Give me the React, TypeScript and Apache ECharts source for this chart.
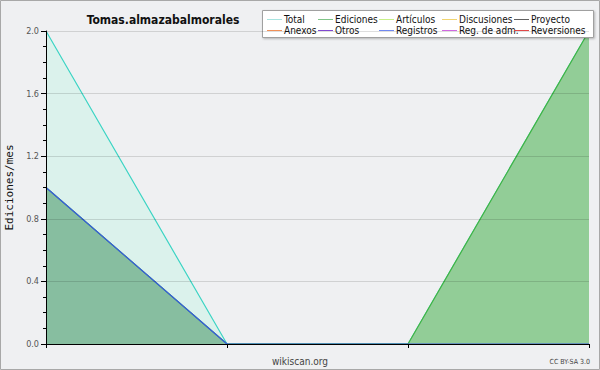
import React, { useEffect, useRef } from "react";
import * as echarts from "echarts";

const categories = ["m1", "m2", "m3", "m4"];
const totalValues = [2, 0, 0, 2];
const edicionesValues = [1, 0, 0, 2];
const registrosValues = [1, 0, 0, 0];
const yTicks = [0, 0.4, 0.8, 1.2, 1.6, 2.0];

const legendNames = [
  "Total", "Ediciones", "Artículos", "Discusiones", "Proyecto",
  "Anexos", "Otros", "Registros", "Reg. de adm.", "Reversiones",
];
const legendColors = [
  "#a8e4e0", "#80c488", "#c8f088", "#f0d470", "#606060",
  "#f09058", "#8048d0", "#7088f0", "#d068e0", "#e04848",
];

const COND = "'DejaVu Sans Condensed', 'DejaVu Sans', sans-serif";

export default function App() {
  const ref = useRef<HTMLDivElement>(null);
  useEffect(() => {
    document.body.style.margin = "0";
    const chart = echarts.init(ref.current!, null, { renderer: "svg" });
    const colX = [267, 318, 379, 442, 514];
    const rowY = [19, 30];
    const legendEls: any[] = [
      {
        type: "rect",
        shape: { x: 262.5, y: 10.5, width: 331, height: 27 },
        style: { fill: "#ffffff", stroke: "#a0a0a0", lineWidth: 1, shadowBlur: 2, shadowColor: "rgba(0,0,0,0.25)", shadowOffsetX: 1, shadowOffsetY: 1 },
        z: 10,
      },
    ];
    legendNames.forEach((name, i) => {
      const x = colX[i % 5];
      const y = rowY[Math.floor(i / 5)];
      legendEls.push({
        type: "line",
        shape: { x1: x, y1: y + 0.5, x2: x + 15, y2: y + 0.5 },
        style: { stroke: legendColors[i], lineWidth: 1 },
        z: 11,
      });
      legendEls.push({
        type: "text",
        x: x + 17,
        y: y,
        style: { text: name, fill: "#111", font: `10px ${COND}`, verticalAlign: "middle", align: "left" },
        z: 11,
      });
    });

    chart.setOption({
      animation: false,
      backgroundColor: "#eff0f2",
      title: {
        text: "Tomas.almazabalmorales",
        left: 158,
        top: 9,
        textAlign: "center",
        textStyle: { fontFamily: COND, fontSize: 12, fontWeight: "bold", color: "#111" },
      },
      grid: { left: 46, right: 11, top: 31, bottom: 26, containLabel: false, outerBoundsMode: "none" },
      xAxis: {
        type: "category",
        data: categories,
        boundaryGap: false,
        z: 10,
        axisLine: { lineStyle: { color: "#000", width: 1 } },
        axisTick: { show: true, interval: 0, length: 4, lineStyle: { color: "#000" } },
        axisLabel: { show: false },
        splitLine: { show: false },
      },
      yAxis: {
        type: "value",
        min: 0,
        max: 2,
        interval: 0.4,
        z: 10,
        name: "Ediciones/mes",
        nameLocation: "middle",
        nameGap: 30,
        nameTextStyle: { fontFamily: "'DejaVu Sans Mono', monospace", fontSize: 11, color: "#111" },
        axisLine: { show: true, lineStyle: { color: "#000", width: 1 } },
        axisTick: { show: true, length: 5, lineStyle: { color: "#000" } },
        minorTick: { show: true, splitNumber: 4, length: 3, lineStyle: { color: "#000" } },
        axisLabel: {
          fontFamily: COND,
          fontSize: 9,
          color: "#555",
          margin: 7,
          formatter: (v: number) => (yTicks.some((t) => Math.abs(t - v) < 1e-6) ? v.toFixed(1) : ""),
        },
        splitLine: { show: true, lineStyle: { color: "rgba(0,0,0,0.13)", width: 1 } },
      },
      series: [
        {
          name: "Total",
          type: "line",
          data: totalValues,
          symbol: "none",
          lineStyle: { color: "#3cd4c4", width: 1.2 },
          areaStyle: { color: "#dbf2ec", opacity: 1 },
          z: 2,
        },
        {
          name: "Ediciones",
          type: "line",
          data: edicionesValues,
          symbol: "none",
          lineStyle: { color: "#40b444", width: 1.2 },
          areaStyle: { color: "#92cd97", opacity: 1 },
          z: 3,
        },
        {
          name: "Registros",
          type: "line",
          data: registrosValues,
          symbol: "none",
          lineStyle: { color: "#3858e0", width: 1.2 },
          areaStyle: { color: "#4060e0", opacity: 0.13 },
          z: 4,
        },
      ],
      graphic: [
        {
          type: "rect",
          shape: { x: 0.5, y: 0.5, width: 599, height: 369 },
          style: { fill: "none", stroke: "#a8a8a8", lineWidth: 1 },
          z: 20,
        },
        ...legendEls,
        {
          type: "text",
          x: 300,
          y: 361,
          style: { text: "wikiscan.org", fill: "#444", font: `10px ${COND}`, align: "center", verticalAlign: "middle" },
        },
        {
          type: "text",
          x: 590,
          y: 362,
          style: { text: "CC BY-SA 3.0", fill: "#444", font: `7px ${COND}`, align: "right", verticalAlign: "middle" },
        },
      ],
    });
    return () => chart.dispose();
  }, []);
  return <div ref={ref} style={{ position: "absolute", left: 0, top: 0, width: 600, height: 370 }} />;
}
